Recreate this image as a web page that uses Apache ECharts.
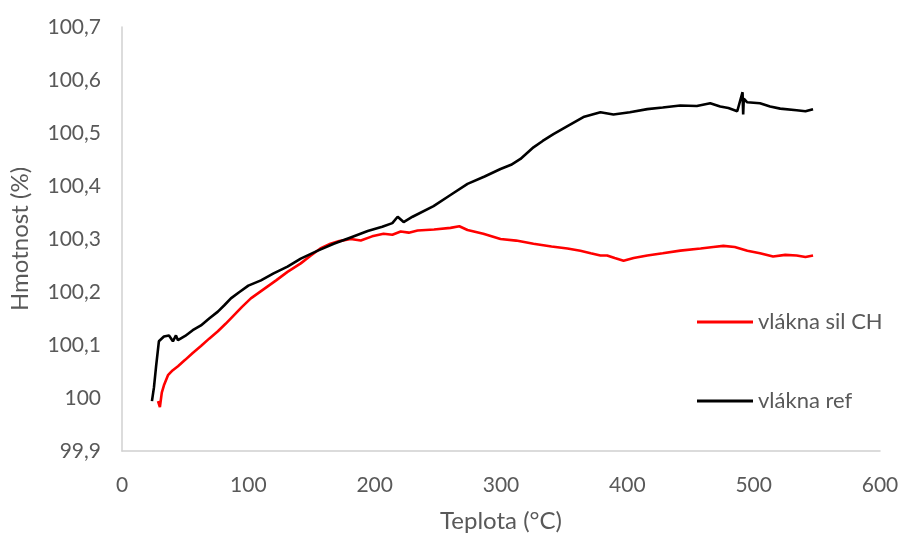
<!DOCTYPE html>
<html>
<head>
<meta charset="utf-8">
<script src="https://cdn.jsdelivr.net/npm/echarts@6/dist/echarts.min.js"></script>
<style>
  html, body { margin: 0; padding: 0; background: #fff; }
  #main { width: 907px; height: 538px; }
</style>
</head>
<body>
<div id="main"></div>
<script>
// vlákna ref (černá) - teplota [°C], hmotnost [%]
const refT = [23.7, 25.3, 27, 29.2, 33.2, 37.2, 40.3, 42.7, 44.3, 50, 56, 62.5, 69, 75.9, 81, 86.2, 93, 100, 110, 120, 131, 141.5, 155, 167.6, 181, 194.5, 206, 214, 218.2, 222.9, 230, 246.6, 260, 273.5, 287, 299.6, 308, 315.4, 325.7, 333, 341.5, 352.6, 365.2, 378.7, 389, 402, 415.8, 428, 441.9, 455, 465.6, 473.5, 480, 487, 491.2, 491.7, 492.2, 494.9, 505, 513, 521, 534, 541, 547];
const refV = [99.994, 100.02, 100.06, 100.107, 100.116, 100.118, 100.107, 100.118, 100.109, 100.117, 100.128, 100.137, 100.15, 100.163, 100.175, 100.188, 100.2, 100.212, 100.222, 100.235, 100.248, 100.263, 100.278, 100.291, 100.303, 100.315, 100.323, 100.33, 100.342, 100.332, 100.342, 100.362, 100.383, 100.404, 100.418, 100.432, 100.44, 100.451, 100.473, 100.485, 100.498, 100.513, 100.53, 100.539, 100.535, 100.539, 100.545, 100.548, 100.552, 100.551, 100.556, 100.55, 100.547, 100.541, 100.577, 100.535, 100.565, 100.558, 100.556, 100.55, 100.546, 100.543, 100.541, 100.545];

// vlákna sil CH (červená)
const silT = [28.5, 30.0, 31.5, 33.2, 36.4, 40, 44.3, 50, 56, 62.5, 69, 75.9, 82, 88.5, 95, 102, 112, 122, 131, 141.5, 149, 157, 165, 172, 181, 189, 198, 207, 214, 220.6, 227, 234, 247, 260, 267, 273.5, 286, 299.6, 312, 325.7, 340, 352.6, 362.8, 371, 378.7, 384, 390, 397, 405, 415.8, 428, 441.9, 458, 468, 476, 485, 495, 505, 515.4, 525, 534, 541, 547];
const silV = [99.994, 99.983, 100.01, 100.024, 100.043, 100.052, 100.06, 100.072, 100.085, 100.098, 100.112, 100.126, 100.14, 100.156, 100.172, 100.188, 100.205, 100.222, 100.238, 100.254, 100.268, 100.282, 100.291, 100.296, 100.3, 100.297, 100.305, 100.31, 100.308, 100.314, 100.312, 100.316, 100.318, 100.321, 100.324, 100.317, 100.31, 100.3, 100.297, 100.291, 100.286, 100.282, 100.278, 100.273, 100.269, 100.269, 100.264, 100.259, 100.264, 100.269, 100.273, 100.278, 100.282, 100.285, 100.287, 100.285, 100.278, 100.273, 100.267, 100.27, 100.269, 100.266, 100.269];

const seriesNames = ['vlákna sil CH', 'vlákna ref'];
const seriesColors = ['#ff0000', '#000000'];

const xTicks = { min: 0, max: 600, step: 100 };
const yTicks = { min: 99.9, max: 100.7, step: 0.1 };

function pairs(xs, ys) {
  return xs.map((x, i) => [x, ys[i]]);
}

const font = 'Lato, "Open Sans", sans-serif';
const chart = echarts.init(document.getElementById('main'));

chart.setOption({
  animation: false,
  backgroundColor: '#fff',
  textStyle: { fontFamily: font },
  grid: { left: 121, right: 27, top: 27, bottom: 85 },
  legend: {
    orient: 'vertical',
    left: 692,
    top: 306,
    itemGap: 57,
    icon: 'rect',
    itemWidth: 56,
    itemHeight: 3,
    textStyle: { fontSize: 22, color: '#595959', fontFamily: font },
    data: seriesNames
  },
  xAxis: {
    type: 'value',
    min: xTicks.min,
    max: xTicks.max,
    interval: xTicks.step,
    name: 'Teplota (°C)',
    nameLocation: 'middle',
    nameGap: 58,
    nameTextStyle: { fontSize: 24, color: '#595959', fontFamily: font },
    axisLine: { lineStyle: { color: '#d0d0d0', width: 1.5 } },
    axisTick: { show: false },
    splitLine: { show: false },
    axisLabel: { fontSize: 21, color: '#595959', margin: 24 }
  },
  yAxis: {
    type: 'value',
    min: yTicks.min,
    max: yTicks.max,
    interval: yTicks.step,
    name: 'Hmotnost (%)',
    nameLocation: 'middle',
    nameGap: 90,
    nameTextStyle: { fontSize: 24, color: '#595959', fontFamily: font },
    axisLine: { show: true, lineStyle: { color: '#d0d0d0', width: 1.5 } },
    axisTick: { show: false },
    splitLine: { show: false },
    axisLabel: {
      fontSize: 21,
      color: '#595959',
      margin: 21,
      formatter: v => String(Math.round(v * 10) / 10).replace('.', ',')
    }
  },
  series: [
    {
      name: seriesNames[0],
      type: 'line',
      data: pairs(silT, silV),
      showSymbol: false,
      symbol: 'none',
      color: seriesColors[0],
      lineStyle: { color: seriesColors[0], width: 2.6 }
    },
    {
      name: seriesNames[1],
      type: 'line',
      data: pairs(refT, refV),
      showSymbol: false,
      symbol: 'none',
      color: seriesColors[1],
      lineStyle: { color: seriesColors[1], width: 2.6 }
    }
  ]
});
</script>
</body>
</html>
